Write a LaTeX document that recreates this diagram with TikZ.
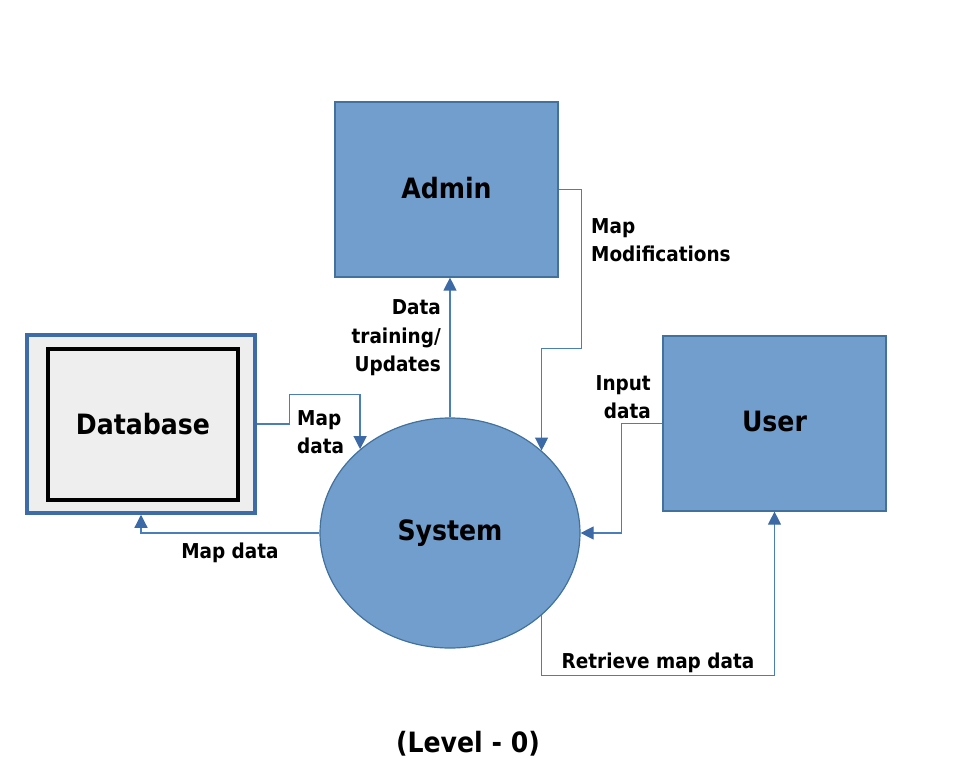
\documentclass[tikz,border=0pt]{standalone}
\usepackage{fontspec}
\setmainfont{DejaVu Sans Condensed}[BoldFont={DejaVu Sans Condensed Bold}]
\usetikzlibrary{arrows.meta,calc,shapes.geometric}
\definecolor{boxfill}{HTML}{729ECE}
\definecolor{boxline}{HTML}{41719C}
\definecolor{flow}{HTML}{4A7EBB}
\definecolor{tipc}{HTML}{3C6AA6}
\definecolor{dbfill}{HTML}{EEEEEE}
\definecolor{dbline}{HTML}{3D6CA8}
\begin{document}
\begin{tikzpicture}[x=1pt,y=-1pt,
  entity/.style={rectangle,draw=boxline,fill=boxfill,line width=1.2pt,minimum width=223pt,minimum height=175pt,inner sep=0pt,font=\fontsize{28}{32}\selectfont\bfseries},
  arr/.style={draw=flow,line width=1.2pt,-{Triangle[length=13pt,width=13pt,color=tipc]}},
  lbl/.style={font=\fontsize{20.5}{28.5}\selectfont\bfseries,inner sep=0pt}]
\useasboundingbox (0,0) rectangle (961,783);
\node[entity] (admin) at (446.5,189.5) {\raisebox{3pt}{Admin}};
\node[entity] (user) at (774.5,423.5) {\raisebox{5pt}{User}};
\node[rectangle,draw=dbline,fill=dbfill,line width=3.5pt,minimum width=228pt,minimum height=178pt] (db) at (141,424) {};
\node[rectangle,draw=black,fill=dbfill,line width=4.5pt,minimum width=190pt,minimum height=151pt,font=\fontsize{28}{32}\selectfont\bfseries] (dbin) at (143,424.5) {Database};
\node[ellipse,draw=boxline,fill=boxfill,line width=1.2pt,minimum width=260pt,minimum height=230pt,inner sep=0pt,font=\fontsize{28}{32}\selectfont\bfseries] (sys) at (450,533) {System};
% Database -> System
\draw[arr] (db.east) -- ++(33,0) |- ($(sys.137)+(0,-55)$) -- (sys.137);
% System -> Database
\draw[arr] (sys.west) -| (db.south);
% System -> Admin
\draw[arr] (sys.north) -- (sys.north |- admin.south);
% Admin -> System
\draw[arr] (admin.east) -- ++(23,0) |- ($(sys.42)+(0,-102)$) -- (sys.42);
% User -> System
\draw[arr] (user.west) -- ++(-41,0) |- (sys.east);
% System -> User
\draw[arr] (sys.-42) -- ++(0,60) -| (user.south);
% labels
\node[lbl,align=left,anchor=west] (l1) at (297,432) {Map\\data};
\node[lbl] (l2) at (230,553) {Map data};
\node[lbl,align=right,anchor=east] (l3) at (441,338) {Data\\training/\\Updates};
\node[lbl,align=left,anchor=west] (l4) at (591,240) {Map\\Modifications};
\node[lbl,align=right,anchor=east] (l5) at (651,397) {Input\\data};
\node[lbl] (l6) at (658,663) {Retrieve map data};
\node[font=\fontsize{28}{32}\selectfont\bfseries,inner sep=0pt] (title) at (468,744) {(Level - 0)};
\end{tikzpicture}
\end{document}
